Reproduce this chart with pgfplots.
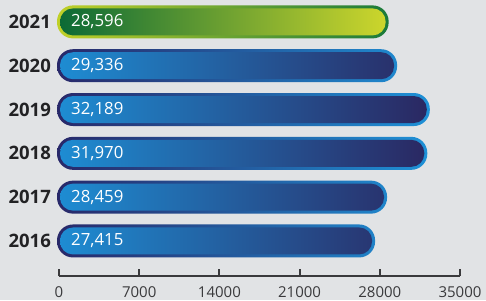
\documentclass[border=0pt]{standalone}
\usepackage{pgfplots}
\pgfplotsset{compat=1.18}
\usepackage{fontspec}
\setmainfont{Open Sans}
\definecolor{bgc}{RGB}{225,227,229}
\definecolor{axc}{RGB}{58,58,60}
\definecolor{yearc}{RGB}{34,34,36}
\definecolor{bL}{RGB}{30,140,210}
\definecolor{bM}{RGB}{6,92,160}
\definecolor{bR}{RGB}{42,40,98}
\definecolor{bbL}{RGB}{40,40,105}
\definecolor{bbR}{RGB}{30,145,215}
\definecolor{gL}{RGB}{12,106,54}
\definecolor{gM}{RGB}{105,158,60}
\definecolor{gR}{RGB}{204,214,44}
\definecolor{gbL}{RGB}{192,208,40}
\definecolor{gbR}{RGB}{26,122,58}
\begin{document}
\begin{tikzpicture}
\useasboundingbox (0,0) rectangle (486pt,300pt);
\fill[bgc] (0,0) rectangle (486pt,300pt);
\begin{axis}[
  at={(59pt,24pt)}, anchor=south west,
  scale only axis, width=401pt, height=276pt,
  xmin=0, xmax=35000, ymin=-0.8, ymax=5.5,
  clip=false,
  axis x line*=bottom, axis y line*=left,
  x axis line style={line width=2.5pt, color=axc, -},
  y axis line style={draw=none},
  xtick={0,7000,14000,21000,28000,35000},
  ytick={0,1,2,3,4,5},
  yticklabels={2016,2017,2018,2019,2020,2021},
  xtick style={line width=2pt, color=axc},
  ytick style={draw=none},
  major tick length=7pt, tick align=inside,
  /pgf/number format/assume math mode=true,
  scaled x ticks=false,
  xticklabel={\pgfmathprintnumber[fixed, 1000 sep={}]{\tick}},
  xticklabel style={font=\fontsize{15}{16}\selectfont, text=axc, inner sep=0pt, anchor=north, yshift=-10.5pt},
  yticklabel style={font=\fontsize{18.5}{20}\selectfont\bfseries, text=yearc, inner sep=0pt, anchor=east, xshift=-8pt},
]
% blue bars: outer (border) layer
\addplot[xbar, bar width=33pt, bar shift=0pt, xshift=-2pt, draw=none,
  left color=bbL, right color=bbR, rounded corners=16pt,
  x filter/.expression={x+350}]
  coordinates {(27415,0) (28459,1) (31970,2) (32189,3) (29336,4)};
% blue bars: inner fill
\addplot[xbar, bar width=27pt, bar shift=0pt, xshift=1pt, draw=none,
  left color=bL, middle color=bM, right color=bR, rounded corners=13pt,
  x filter/.expression={x-175}]
  coordinates {(27415,0) (28459,1) (31970,2) (32189,3) (29336,4)};
% green bar: outer
\addplot[xbar, bar width=33pt, bar shift=0pt, xshift=-2pt, draw=none,
  left color=gbL, right color=gbR, rounded corners=16pt,
  x filter/.expression={x+350}]
  coordinates {(28596,5)};
% green bar: inner
\addplot[xbar, bar width=27pt, bar shift=0pt, xshift=1pt, draw=none,
  left color=gL, middle color=gM, right color=gR, rounded corners=13pt,
  x filter/.expression={x-175}]
  coordinates {(28596,5)};
% value labels
\addplot[draw=none, mark=none, nodes near coords, point meta=explicit symbolic,
  every node near coord/.style={anchor=west, text=white, inner sep=0pt, xshift=12pt,
    font=\fontsize{16.8}{17}\selectfont}]
  table[meta=lab] {
x y lab
0 0 27,415
0 1 28,459
0 2 31,970
0 3 32,189
0 4 29,336
0 5 28,596
};
\end{axis}
\end{tikzpicture}
\end{document}
